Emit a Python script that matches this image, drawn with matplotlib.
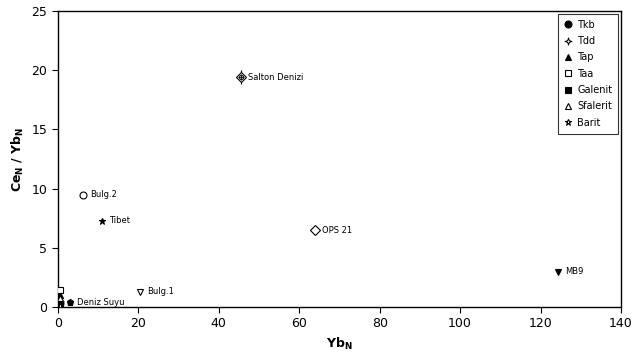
import matplotlib.pyplot as plt

# legend groups (cluster of samples near the origin)
groups = ["Tkb", "Tdd", "Tap", "Taa", "Galenit", "Sfalerit", "Barit"]
group_x = [0.5, 0.5, 0.5, 0.6, 0.5, 0.5, 0.5]
group_y = [0.3, 0.5, 1.0, 1.4, 0.2, 0.8, 0.05]
group_markers = ["o", "$\u2726$", "^", "s", "s", "^", "*"]
group_filled = [True, False, True, False, True, False, False]

# reference samples
ref_names = ["Salton Denizi", "OPS 21", "Bulg.2", "Tibet", "Bulg.1", "Deniz Suyu", "MB9"]
ref_x = [45.5, 64.0, 6.2, 11.0, 20.4, 3.0, 124.3]
ref_y = [19.4, 6.5, 9.5, 7.3, 1.3, 0.4, 3.0]
ref_markers = ["D", "D", "o", "*", "v", "p", "v"]
ref_filled = [False, False, False, True, False, True, True]

fig, ax = plt.subplots(figsize=(6.35, 3.57), dpi=100)
fig.subplots_adjust(left=0.091, right=0.978, top=0.969, bottom=0.14)

for name, x, y, m, f in zip(groups, group_x, group_y, group_markers, group_filled):
    ax.plot(x, y, linestyle="none", marker=m, markersize=5,
            markerfacecolor="black" if f else "white",
            markeredgecolor="black", markeredgewidth=0.8, label=name, zorder=3)

for name, x, y, m, f in zip(ref_names, ref_x, ref_y, ref_markers, ref_filled):
    ax.plot(x, y, linestyle="none", marker=m, markersize=5,
            markerfacecolor="black" if f else "white",
            markeredgecolor="black", markeredgewidth=0.8, zorder=3)
    ax.annotate(name, (x, y), xytext=(5, 0), textcoords="offset points",
                fontsize=6, va="center", ha="left")

# Salton Denizi has an error bar and a crossed circle inside
ax.errorbar(ref_x[0], ref_y[0], yerr=0.6, fmt="none", ecolor="black",
            elinewidth=0.8, zorder=2)
ax.plot(ref_x[0], ref_y[0], marker="o", markersize=3, markerfacecolor="none",
        markeredgecolor="black", markeredgewidth=0.7, zorder=4)
ax.plot(ref_x[0], ref_y[0], marker="+", markersize=5, color="black",
        markeredgewidth=0.6, zorder=4)

ax.set_xlim(0, 140)
ax.set_ylim(0, 25)
ax.set_xticks(range(0, 141, 20))
ax.set_yticks(range(0, 26, 5))
ax.tick_params(labelsize=9, direction="out", length=4, width=0.8)
for s in ax.spines.values():
    s.set_linewidth(1.0)

ax.set_xlabel("Yb$_\\mathbf{N}$", fontsize=9, fontweight="bold")
ax.set_ylabel("Ce$_\\mathbf{N}$ / Yb$_\\mathbf{N}$", fontsize=9, fontweight="bold")

leg = ax.legend(loc="upper right", fontsize=7, frameon=True, fancybox=False,
                edgecolor="black", handletextpad=0.4, borderpad=0.6,
                labelspacing=0.65, handlelength=1.0, borderaxespad=0.3)
leg.get_frame().set_linewidth(0.8)

fig.savefig("out.png", dpi=100)
